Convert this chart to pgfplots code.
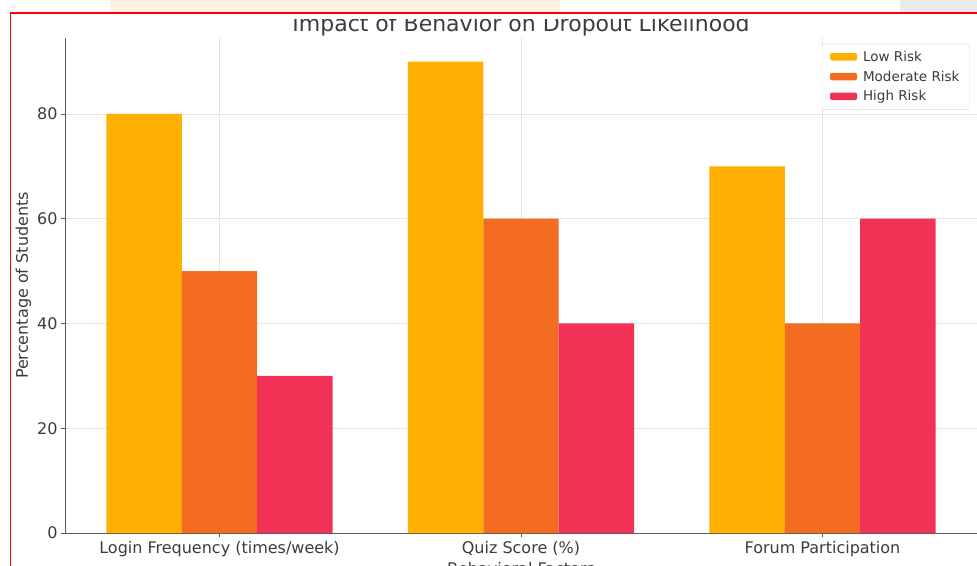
\documentclass[border=0pt]{standalone}
\usepackage{pgfplots}
\pgfplotsset{compat=1.18}
\usepackage{fontspec}
\setmainfont{DejaVu Sans}
\definecolor{lowc}{RGB}{255,176,0}
\definecolor{modc}{RGB}{243,108,33}
\definecolor{highc}{RGB}{241,50,86}
\definecolor{txt}{RGB}{60,60,60}
\begin{document}
\begin{tikzpicture}
\useasboundingbox (0,0) rectangle (977pt,565pt);
\begin{axis}[
  at={(65pt,32pt)}, anchor=south west,
  width=912pt, height=495pt, scale only axis,
  xmin=-0.5125, xmax=2.5125, ymin=0, ymax=94.5,
  ybar, bar width=0.25,
  axis x line*=bottom, axis y line*=left,
  axis line style={black!65, line width=0.9pt},
  xtick={0,1,2},
  xticklabels={Login Frequency (times/week),Quiz Score (\%),Forum Participation},
  ytick={0,20,40,60,80},
  tick align=outside, major tick length=4pt,
  tick style={black!65, line width=0.8pt},
  xmajorgrids, ymajorgrids,
  major grid style={black!10, line width=0.7pt},
  /pgf/number format/assume math mode=true,
  tick label style={font=\fontsize{16}{18}\selectfont, text=txt},
  xticklabel style={anchor=base, yshift=-16pt},
  label style={font=\fontsize{16}{18}\selectfont, text=txt},
  xlabel={Behavioral Factors},
  xlabel style={at={(axis description cs:0.5,0)}, anchor=base, yshift=-41pt},
  ylabel={Percentage of Students},
  ylabel style={at={(axis description cs:-0.0406,0.5)}, anchor=base},
  title={Impact of Behavior on Dropout Likelihood},
  title style={at={(axis description cs:0.5,1)}, anchor=base, yshift=1pt, font=\fontsize{22}{25}\selectfont, text=txt},
  legend style={at={(0.992,0.988)}, anchor=north east, draw=black!15,
    font=\fontsize{13.5}{16}\selectfont, text=txt, rounded corners=2pt,
    inner xsep=8pt, inner ysep=5pt, row sep=4pt,
    /tikz/every odd column/.append style={column sep=4pt}},
  legend cell align=left,
  legend image code/.code={\fill[#1] (0pt,-3.5pt) rectangle (27pt,4pt);},
]
\addplot[draw=none, fill=lowc, bar shift=-0.25] coordinates {(0,80) (1,90) (2,70)};
\addplot[draw=none, fill=modc, bar shift=0] coordinates {(0,50) (1,60) (2,40)};
\addplot[draw=none, fill=highc, bar shift=0.25] coordinates {(0,30) (1,40) (2,60)};
\legend{Low Risk, Moderate Risk, High Risk}
\end{axis}
\fill[white] (0,546pt) rectangle (977pt,565pt);
\fill[orange!10] (110pt,553pt) rectangle (560pt,565pt);
\fill[black!8] (900pt,553pt) rectangle (977pt,565pt);
\draw[red, line width=1.6pt] (10.5pt,-3pt) -- (10.5pt,552pt) -- (985pt,552pt);
\end{tikzpicture}
\end{document}
